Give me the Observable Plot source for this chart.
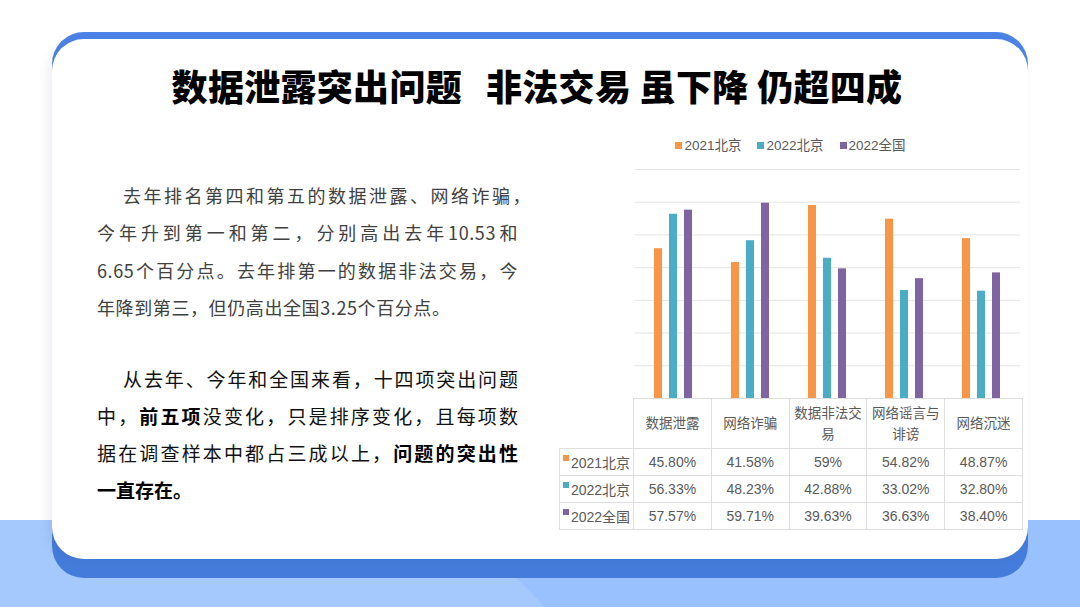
<!DOCTYPE html>
<html>
<head>
<meta charset="utf-8">
<script src="https://cdn.jsdelivr.net/npm/d3@7"></script>
<script src="https://cdn.jsdelivr.net/npm/@observablehq/plot@0.6"></script>
<style>
  html, body { margin: 0; padding: 0; }
  body { width: 1080px; height: 607px; position: relative; overflow: hidden; background: #ffffff;
         font-family: "Noto Sans CJK SC", "Noto Sans", sans-serif; }
  .abs { position: absolute; }
  #bg1 { left: 0; top: 520px; width: 1080px; height: 87px; background: #a6c9fd; }
  #bg2 { left: 0; top: 520px; width: 1080px; height: 87px; background: #99c1fd;
         clip-path: polygon(460px 0, 1080px 0, 1080px 87px, 545px 87px); }
  #cardBlue { left: 52px; top: 32px; width: 976px; height: 546px; border-radius: 32px;
              background: linear-gradient(#4c83e6, #457cdb); }
  #cardWhite { left: 52px; top: 39px; width: 976px; height: 520px; border-radius: 32px; background: #fff;
               box-shadow: -5px 2px 10px rgba(40,60,120,0.08); }
  #title { left: 52px; top: 63px; width: 970px; text-align: center; font-size: 36px; line-height: 44px;
           font-weight: 900; color: #000; letter-spacing: 0.3px; white-space: pre; }
  #title .gap { display: inline-block; width: 24px; }
  .ln { position: absolute; height: 37px; line-height: 37px; white-space: nowrap; }
  .j { text-align: justify; text-align-last: justify; }
  .p1 { font-size: 18px; color: #404040; letter-spacing: 0.6px; }
  .p2 { font-size: 19px; color: #111; }
  .p2 b { font-weight: 700; color: #000; }
  #legend { left: 559px; top: 136px; width: 463px; text-align: center; font-family: "Liberation Sans", "Noto Sans CJK SC", sans-serif;
            font-size: 13.5px; color: #595959; line-height: 20px; }
  #legend .it { display: inline-block; margin: 0 8px; }
  #legend .sw { display: inline-block; width: 7px; height: 7px; margin-right: 2px; vertical-align: 1px; }
  #chart { left: 559px; top: 160px; }
  #tbl { position: absolute; left: 559px; top: 398px; border-collapse: collapse; table-layout: fixed;
         font-family: "Liberation Sans", "Noto Sans CJK SC", sans-serif; color: #595959; }
  #tbl td { border: 1px solid #dedede; text-align: center; padding: 0 2px; font-size: 14px; box-sizing: border-box; }
  #tbl tr.hdr td { height: 50px; font-size: 13.5px; line-height: 21px; }
  #tbl tr.row td { height: 27px; }
  #tbl td.blank { border-top: none; border-left: none; }
  #tbl td.lbl { padding: 0; white-space: nowrap; }
  #tbl .sw { display: inline-block; width: 6px; height: 6px; margin-right: 2px; vertical-align: 7px; }
</style>
</head>
<body>
<div id="bg1" class="abs"></div>
<div id="bg2" class="abs"></div>
<div id="cardBlue" class="abs"></div>
<div id="cardWhite" class="abs"></div>
<div id="title" class="abs">数据泄露突出问题<span class="gap"></span>非法交易 虽下降 仍超四成</div>

<div class="ln p1 j" style="left:123px; top:176.5px; width:408px;">去年排名第四和第五的数据泄露、网络诈骗，</div>
<div class="ln p1 j" style="left:97px; top:214px; width:421px;">今年升到第一和第二，分别高出去年10.53和</div>
<div class="ln p1 j" style="left:97px; top:251.5px; width:421px;">6.65个百分点。去年排第一的数据非法交易，今</div>
<div class="ln p1" style="left:97px; top:289px;">年降到第三，但仍高出全国3.25个百分点。</div>

<div class="ln p2 j" style="left:123px; top:360px; width:395px;">从去年、今年和全国来看，十四项突出问题</div>
<div class="ln p2 j" style="left:97px; top:397px; width:421px;">中，<b>前五项</b>没变化，只是排序变化，且每项数</div>
<div class="ln p2 j" style="left:97px; top:433.5px; width:421px;">据在调查样本中都占三成以上，<b>问题的突出性</b></div>
<div class="ln p2" style="left:97px; top:470.5px;"><b>一直存在。</b></div>

<div id="legend" class="abs"></div>
<div id="chart" class="abs"></div>
<table id="tbl"></table>

<script>
// ---- data ----
const categories = ["数据泄露", "网络诈骗", "数据非法交易", "网络谣言与诽谤", "网络沉迷"];
const series = ["2021北京", "2022北京", "2022全国"];
const beijing2021 = [45.80, 41.58, 59, 54.82, 48.87];
const beijing2022 = [56.33, 48.23, 42.88, 33.02, 32.80];
const national2022 = [57.57, 59.71, 39.63, 36.63, 38.40];
const seriesColors = ["#F79646", "#4BACC6", "#8064A2"];
const gridTicks = [10, 20, 30, 40, 50, 60, 70];

// ---- build rows ----
const valuesBySeries = [beijing2021, beijing2022, national2022];
const rows = [];
series.forEach((s, i) => categories.forEach((c, j) => rows.push({series: s, category: c, value: valuesBySeries[i][j]})));

const W = 463, ML = 74;
const colW = (W - ML) / categories.length;

// ---- legend ----
const legend = document.getElementById("legend");
series.forEach((s, i) => {
  const it = document.createElement("span");
  it.className = "it";
  it.innerHTML = `<span class="sw" style="background:${seriesColors[i]}"></span>${s}`;
  legend.appendChild(it);
});

// ---- chart ----
const chart = Plot.plot({
  width: W,
  height: 239,
  marginLeft: ML,
  marginRight: 0,
  marginTop: 9,
  marginBottom: 1,
  facet: {data: rows, x: "category"},
  fx: {domain: categories, padding: 0, axis: null, label: null},
  x: {domain: series, paddingInner: 0.4375, paddingOuter: 1.15, axis: null},
  y: {domain: [0, 70], axis: null},
  color: {domain: series, range: seriesColors},
  style: {background: "transparent"},
  marks: [
    Plot.ruleY(gridTicks, {stroke: "#e4e4e4", strokeWidth: 1}),
    Plot.barY(rows, {x: "series", y: "value", fill: "series"})
  ]
});
document.getElementById("chart").appendChild(chart);

// ---- table ----
const fmt = v => (Number.isInteger(v) ? String(v) : v.toFixed(2)) + "%";
const tbl = document.getElementById("tbl");
tbl.style.width = W + "px";
let html = `<colgroup><col style="width:${ML}px">` + categories.map(() => `<col style="width:${colW}px">`).join("") + `</colgroup>`;
html += `<tr class="hdr"><td class="blank"></td>` + categories.map(c => `<td>${c}</td>`).join("") + `</tr>`;
series.forEach((s, i) => {
  html += `<tr class="row"><td class="lbl"><span class="sw" style="background:${seriesColors[i]}"></span>${s}</td>` +
    valuesBySeries[i].map(v => `<td>${fmt(v)}</td>`).join("") + `</tr>`;
});
tbl.innerHTML = html;
</script>
</body>
</html>
